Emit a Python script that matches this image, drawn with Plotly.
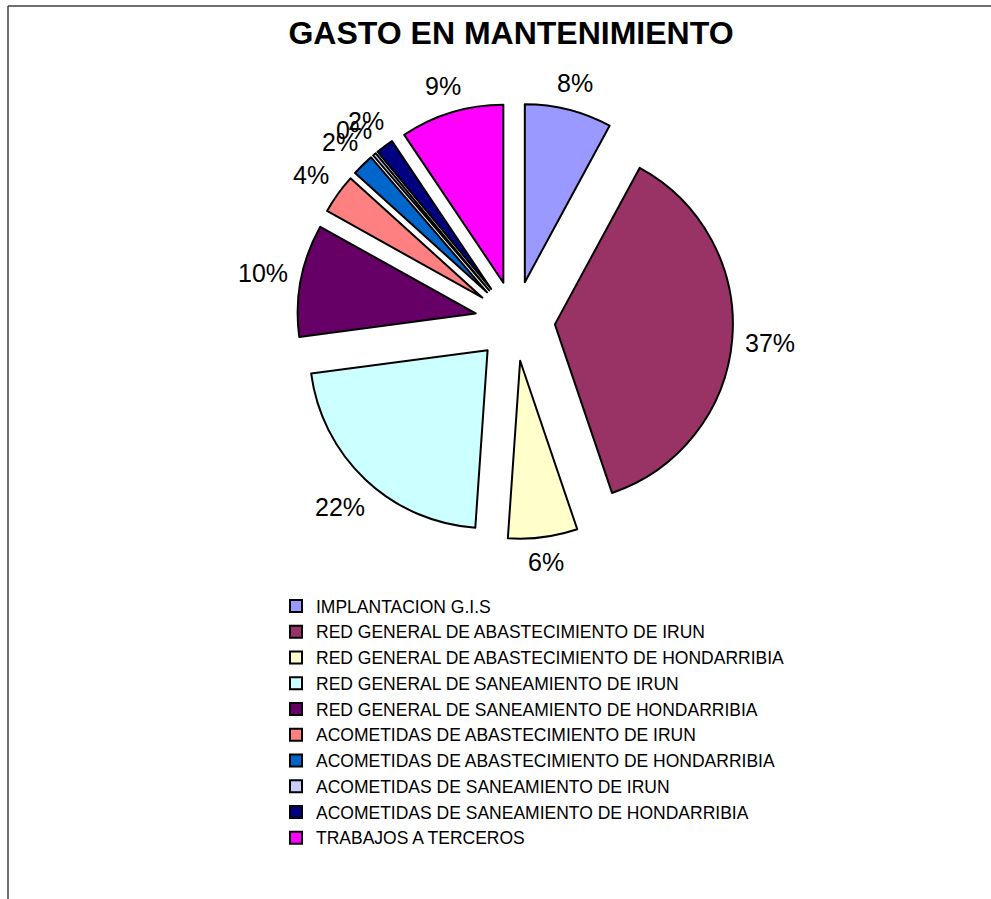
import math
import plotly.graph_objects as go

# Maintenance spending by item (share of total, %)
categories = [
    "IMPLANTACION G.I.S",
    "RED GENERAL DE ABASTECIMIENTO DE IRUN",
    "RED GENERAL DE ABASTECIMIENTO DE HONDARRIBIA",
    "RED GENERAL DE SANEAMIENTO DE IRUN",
    "RED GENERAL DE SANEAMIENTO DE HONDARRIBIA",
    "ACOMETIDAS DE ABASTECIMIENTO DE IRUN",
    "ACOMETIDAS DE ABASTECIMIENTO DE HONDARRIBIA",
    "ACOMETIDAS DE SANEAMIENTO DE IRUN",
    "ACOMETIDAS DE SANEAMIENTO DE HONDARRIBIA",
    "TRABAJOS A TERCEROS",
]
values = [7.9, 36.9, 6.3, 21.8, 10.2, 3.6, 2.0, 0.3, 1.6, 9.4]
colors = ["#9999FF", "#993366", "#FFFFCC", "#CCFFFF", "#660066",
          "#FF8080", "#0066CC", "#CCCCFF", "#000080", "#FF00FF"]

W, H = 991, 899
FONT = "Liberation Sans, Arial, sans-serif"

# pie placement (pixels in the page)
cx, cy, half = 515, 321, 218
PULL = 0.225

# percentage labels: box edge kept at a fixed gap outside the pie
LABEL_SIZE = 25
LABEL_R0 = 230
LABEL_HALF_H = 11

fig = go.Figure(go.Pie(
    labels=categories,
    values=values,
    sort=False,
    direction="clockwise",
    rotation=0,
    pull=PULL,
    marker=dict(colors=colors, line=dict(color="#000000", width=2)),
    textinfo="none",
    domain=dict(x=[(cx - half) / W, (cx + half) / W],
                y=[1 - (cy + half) / H, 1 - (cy - half) / H]),
    hoverinfo="label+percent",
))

total = sum(values)
annotations = []
acc = 0.0
for v in values:
    mid = (acc + v / 2) / total * 2 * math.pi
    acc += v
    text = f"{round(v / total * 100)}%"
    half_w = 0.5 * LABEL_SIZE * (0.556 * (len(text) - 1) + 0.889)
    dist = LABEL_R0 + abs(math.sin(mid)) * half_w + abs(math.cos(mid)) * LABEL_HALF_H
    px = cx + dist * math.sin(mid)
    py = cy - dist * math.cos(mid)
    annotations.append(dict(
        x=px / W, y=1 - py / H, xref="paper", yref="paper",
        text=text, showarrow=False,
        xanchor="center", yanchor="middle",
        font=dict(family=FONT, size=LABEL_SIZE, color="#000000"),
    ))

fig.update_layout(
    width=W, height=H,
    margin=dict(l=0, r=0, t=0, b=0, pad=0),
    paper_bgcolor="white",
    title=dict(text="<b>GASTO EN MANTENIMIENTO</b>", x=511 / W, xanchor="center",
               y=1 - 33 / H, yanchor="middle", automargin=False,
               font=dict(family=FONT, size=32, color="#000000")),
    legend=dict(x=276 / W, xanchor="left", y=1 - 588 / H, yanchor="top",
                font=dict(family=FONT, size=17.5, color="#000000"),
                itemwidth=30, tracegroupgap=0, bgcolor="rgba(0,0,0,0)"),
    annotations=annotations,
    shapes=[
        dict(type="line", xref="paper", yref="paper",
             x0=8 / W, x1=1.02, y0=1 - 6 / H, y1=1 - 6 / H,
             line=dict(color="#404040", width=1.5)),
        dict(type="line", xref="paper", yref="paper",
             x0=8 / W, x1=8 / W, y0=1 - 6 / H, y1=-0.02,
             line=dict(color="#404040", width=1.5)),
    ],
)

fig.write_html("out.html")
